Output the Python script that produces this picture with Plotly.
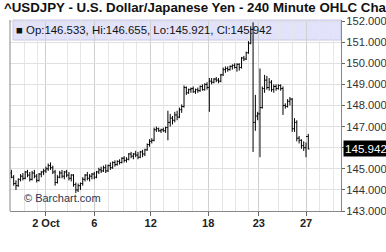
import plotly.graph_objects as go

# ---- data (240-minute bars) ----
opens = [144.80,144.60,144.30,144.20,144.50,144.65,144.55,144.85,144.70,144.50,
         144.80,144.65,144.45,144.75,144.85,144.90,145.00,145.15,145.05,144.85,
         144.35,144.60,144.80,144.65,144.85,144.70,144.55,144.70,144.25,144.00,
         144.20,144.30,144.50,144.70,144.55,144.65,144.75,144.60,144.85,144.95,
         144.90,145.05,144.90,145.15,145.05,145.30,145.20,145.35,145.30,145.50,
         145.40,145.45,145.70,145.60,145.70,145.65,145.55,145.80,145.70,145.90,
         146.15,146.30,146.35,146.85,146.90,146.80,146.85,146.80,146.95,147.20,
         147.40,147.30,147.55,147.45,147.80,147.95,148.85,148.60,148.75,148.80,
         148.65,148.75,148.70,148.90,148.75,149.00,148.85,149.15,149.10,149.25,
         149.20,149.15,149.45,149.70,149.75,149.70,149.85,149.90,149.80,149.95,
         149.80,150.25,150.20,150.50,150.95,151.60,147.20,147.50,147.60,147.90,
         148.80,149.20,148.85,149.10,148.75,148.90,148.80,148.95,148.80,148.00,
         147.95,148.20,148.30,146.90,147.20,146.45,146.35,146.10,146.00,146.533]
highs = [144.95,144.70,144.45,144.55,144.75,144.80,144.90,144.95,144.85,144.90,
         144.95,144.75,144.80,144.90,145.00,145.10,145.25,145.30,145.15,144.95,
         144.70,144.90,144.95,144.90,144.95,144.85,144.75,144.75,144.35,144.30,
         144.35,144.60,144.75,144.85,144.75,144.80,144.85,144.90,145.05,145.10,
         145.15,145.20,145.20,145.30,145.35,145.40,145.40,145.45,145.55,145.60,
         145.55,145.75,145.80,145.75,145.85,145.80,145.85,145.90,145.95,146.20,
         146.40,146.45,146.95,147.00,146.95,146.90,146.95,147.00,147.75,147.60,
         147.50,147.70,147.75,147.90,148.05,148.95,148.90,148.80,148.85,148.90,
         148.80,148.85,148.95,149.00,149.05,149.10,149.30,149.30,149.30,149.35,
         149.30,149.50,149.80,149.85,149.85,149.90,149.95,150.00,150.00,150.00,
         150.30,150.35,150.55,151.05,151.75,151.94,148.50,147.70,149.75,148.90,
         149.45,149.40,149.30,149.20,149.00,149.00,149.00,149.00,148.90,148.10,
         148.30,148.40,148.35,147.40,147.30,146.55,146.40,146.30,146.25,146.655]
lows = [144.55,144.20,144.00,144.15,144.40,144.45,144.50,144.60,144.40,144.45,
        144.55,144.35,144.40,144.60,144.70,144.80,144.90,144.95,144.75,144.20,
        144.30,144.55,144.55,144.50,144.60,144.45,144.40,144.15,143.85,143.90,
        144.00,144.20,144.40,144.45,144.40,144.50,144.50,144.55,144.75,144.80,
        144.85,144.80,144.85,144.95,145.00,145.10,145.15,145.20,145.25,145.30,
        145.30,145.40,145.50,145.45,145.55,145.45,145.50,145.55,145.60,145.85,
        146.05,146.20,146.30,146.75,146.75,146.70,146.75,146.70,146.35,147.00,
        147.10,147.20,147.30,147.40,147.65,147.90,148.50,148.55,148.60,148.60,
        148.55,148.60,148.65,148.70,148.70,148.75,147.70,149.00,149.05,149.10,
        149.05,149.10,149.40,149.55,149.60,149.65,149.70,149.75,149.60,149.65,
        149.75,150.10,150.15,150.45,150.90,145.80,146.80,147.30,145.55,147.85,
        148.60,148.75,148.70,148.65,148.60,148.70,148.75,148.70,147.55,147.85,
        147.90,148.00,146.75,146.75,146.30,146.20,145.95,145.85,145.55,145.921]
closes = [144.60,144.30,144.20,144.50,144.65,144.55,144.85,144.70,144.50,144.80,
          144.65,144.45,144.75,144.85,144.90,145.00,145.15,145.05,144.85,144.35,
          144.60,144.80,144.65,144.85,144.70,144.55,144.70,144.25,144.00,144.20,
          144.30,144.50,144.70,144.55,144.65,144.75,144.60,144.85,144.95,144.90,
          145.05,144.90,145.15,145.05,145.30,145.20,145.35,145.30,145.50,145.40,
          145.45,145.70,145.60,145.70,145.65,145.55,145.80,145.70,145.90,146.15,
          146.30,146.35,146.85,146.90,146.80,146.85,146.80,146.95,147.20,147.40,
          147.30,147.55,147.45,147.80,147.95,148.85,148.60,148.75,148.80,148.65,
          148.75,148.70,148.90,148.75,149.00,148.85,149.15,149.10,149.25,149.20,
          149.15,149.45,149.70,149.75,149.70,149.85,149.90,149.80,149.95,149.80,
          150.25,150.20,150.50,150.95,151.60,147.20,147.50,147.60,147.90,148.80,
          149.20,148.85,149.10,148.75,148.90,148.80,148.95,148.80,148.00,147.95,
          148.20,148.30,146.90,147.20,146.45,146.35,146.10,146.00,146.533,145.942]
bar_index = list(range(len(closes)))

date_tick_pos = [15, 36, 60.5, 85.5, 107.5, 128]
date_tick_text = ["2 Oct", "6", "12", "18", "23", "27"]
day_grid_pos = [5.5, 11.5, 24.5, 30, 42, 48.5, 54.5, 66, 72.5, 78.5,
                91.5, 97.5, 103, 116, 122, 134, 140]
price_ticks = [143, 144, 145, 146, 147, 148, 149, 150, 151, 152]

title_text = "^USDJPY - U.S. Dollar/Japanese Yen - 240 Minute OHLC Chart"
FONT = "Liberation Sans, Arial, sans-serif"

fig = go.Figure()
fig.add_trace(go.Ohlc(
    x=bar_index, open=opens, high=highs, low=lows, close=closes,
    increasing=dict(line=dict(color="black", width=1)),
    decreasing=dict(line=dict(color="black", width=1)),
    tickwidth=0.5, hoverinfo="skip", showlegend=False))

last_o, last_h, last_l, last_c = opens[-1], highs[-1], lows[-1], closes[-1]

fig.update_layout(
    width=386, height=252,
    margin=dict(l=10, r=45, t=20, b=41, autoexpand=False),
    paper_bgcolor="white", plot_bgcolor="white",
    font=dict(family=FONT, color="#222"),
    showlegend=False,
    xaxis=dict(
        range=[-0.6, 143.2], rangeslider=dict(visible=False), automargin=False,
        tickvals=date_tick_pos, ticktext=date_tick_text,
        tickfont=dict(family=FONT, size=11, color="#222", weight="bold"),
        ticks="outside", ticklen=4, tickcolor="#666", ticklabelstandoff=-2,
        showgrid=True, gridcolor="#cfcfcf", gridwidth=1,
        minor=dict(tickvals=day_grid_pos, showgrid=True, gridcolor="#e6e6e6", ticks=""),
        showline=True, linecolor="#888", linewidth=1, zeroline=False,
    ),
    yaxis=dict(
        range=[143, 152.05], side="right", automargin=False,
        tickvals=price_ticks, tickformat=".3f",
        tickfont=dict(family=FONT, size=11.2, color="#333"),
        ticks="outside", ticklen=3, tickcolor="#666", ticklabelstandoff=-1,
        showgrid=True, gridcolor="#e0e0e0", gridwidth=1,
        showline=True, linecolor="#888", linewidth=1, zeroline=False,
    ),
)

# left border of plot
fig.add_shape(type="line", xref="paper", yref="paper", x0=0, x1=0, y0=0, y1=1,
              line=dict(color="#888", width=1))
# info box at top of plot
fig.add_shape(type="rect", xref="paper", yref="paper", x0=0.009, x1=1, y0=0.895, y1=1.0,
              fillcolor="#e2e2fa", line=dict(color="#c8c8e8", width=1), layer="between")

fig.add_annotation(xref="paper", yref="paper", x=0.012, y=0.948, xanchor="left", yanchor="middle",
                   text=f"■ Op:{last_o:.3f}, Hi:{last_h:.3f}, Lo:{last_l:.3f}, Cl:{last_c:.3f}",
                   showarrow=False, font=dict(family=FONT, size=11.4, color="#111"))
fig.add_annotation(xref="paper", yref="paper", x=0.036, y=0.068, xanchor="left", yanchor="middle",
                   text="© Barchart.com", showarrow=False,
                   font=dict(family=FONT, size=11, color="#2b3550"))
fig.add_annotation(xref="paper", yref="y", x=1, y=last_c, xanchor="left", yanchor="middle",
                   xshift=2, text=f"{last_c:.3f}", showarrow=False, bgcolor="black",
                   borderpad=1, font=dict(family=FONT, size=11.6, color="white"))
fig.add_annotation(xref="paper", yref="paper", x=-0.024, y=1.063, xanchor="left", yanchor="middle",
                   text=f"<b>{title_text}</b>", showarrow=False,
                   font=dict(family=FONT, size=13.3, color="#111"))

fig.write_html("out.html")
